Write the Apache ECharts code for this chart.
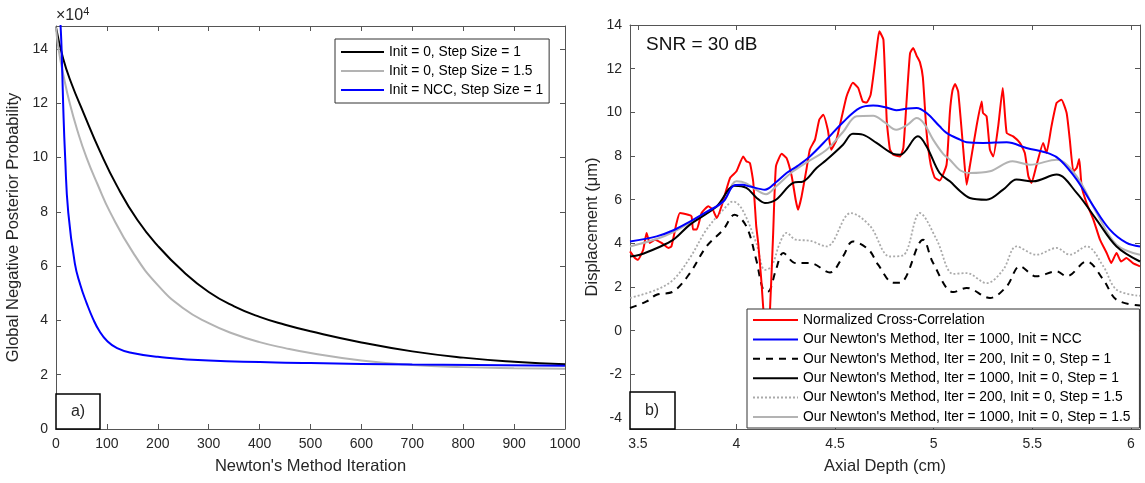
<!DOCTYPE html>
<html>
<head>
<meta charset="utf-8">
<script src="https://cdn.jsdelivr.net/npm/echarts@6/dist/echarts.min.js"></script>
<style>
  html, body { margin: 0; padding: 0; background: #fff; }
  #main { width: 1145px; height: 483px; }
</style>
</head>
<body>
<div id="main"></div>
<script>
// ---- panel a) : objective vs iteration (values x 1e4) ----
const iterBlack = [0, 14, 30, 54, 86, 120, 160, 200, 250, 300, 350, 400, 450, 500, 600, 700, 800, 900, 1000];
const valBlack = [14.8, 13.65, 12.75, 11.65, 10.25, 8.95, 7.7, 6.75, 5.8, 5.05, 4.52, 4.13, 3.84, 3.6, 3.19, 2.86, 2.63, 2.48, 2.39];
const iterGray = [0, 5, 15, 27, 42, 60, 82, 106, 152, 200, 250, 300, 350, 400, 450, 500, 600, 700, 800, 900, 1000];
const valGray = [14.8, 14.0, 13.0, 12.0, 11.0, 10.0, 9.0, 8.0, 6.48, 5.3, 4.45, 3.9, 3.5, 3.2, 2.98, 2.8, 2.52, 2.36, 2.28, 2.24, 2.22];
const iterBlue = [4, 8, 11, 14, 18, 24, 37, 48, 60, 73, 85, 100, 120, 150, 200, 300, 500, 700, 1000];
const valBlue = [17.5, 15.3, 14.0, 12.0, 10.0, 8.0, 6.1, 5.3, 4.65, 4.05, 3.62, 3.25, 2.98, 2.8, 2.66, 2.52, 2.43, 2.38, 2.33];
const iterTicks = [0, 100, 200, 300, 400, 500, 600, 700, 800, 900, 1000];
const gnppTicks = [0, 2, 4, 6, 8, 10, 12, 14];

// ---- panel b) : displacement vs depth ----
const nccX = [3.46, 3.485, 3.50, 3.527, 3.544, 3.56, 3.586, 3.62, 3.654, 3.67, 3.696, 3.713, 3.755, 3.772, 3.78, 3.798, 3.823, 3.857, 3.88, 3.9, 3.924, 3.967, 4.0, 4.034, 4.05, 4.068, 4.085, 4.1, 4.11, 4.127, 4.135, 4.145, 4.16, 4.17, 4.186, 4.2, 4.229, 4.254, 4.28, 4.3, 4.312, 4.33, 4.355, 4.372, 4.398, 4.42, 4.44, 4.463, 4.48, 4.507, 4.558, 4.59, 4.617, 4.64, 4.66, 4.68, 4.7, 4.712, 4.724, 4.745, 4.762, 4.778, 4.795, 4.829, 4.846, 4.863, 4.88, 4.896, 4.913, 4.93, 4.945, 4.964, 4.985, 5.006, 5.03, 5.065, 5.082, 5.095, 5.108, 5.124, 5.15, 5.167, 5.183, 5.217, 5.243, 5.25, 5.268, 5.285, 5.302, 5.327, 5.35, 5.37, 5.403, 5.437, 5.462, 5.48, 5.496, 5.52, 5.555, 5.572, 5.597, 5.623, 5.648, 5.674, 5.69, 5.708, 5.725, 5.738, 5.75, 5.775, 5.81, 5.843, 5.877, 5.9, 5.927, 5.95, 5.977, 6.01, 6.046];
const nccY = [3.63, 3.33, 3.25, 3.71, 4.48, 4.02, 4.17, 4.02, 3.79, 3.86, 4.93, 5.39, 5.31, 5.24, 4.63, 4.63, 5.39, 5.7, 5.54, 5.16, 5.7, 6.99, 7.3, 7.98, 7.76, 7.68, 6.8, 4.8, 4.02, 2.18, 1.11, 0.3, 0.3, 1.0, 4.48, 7.53, 8.1, 7.9, 7.07, 6.0, 5.54, 6.15, 7.4, 8.3, 8.75, 9.67, 9.89, 9.2, 8.29, 8.75, 10.73, 11.35, 11.12, 10.5, 10.45, 10.8, 12.1, 13.0, 13.71, 13.33, 9.6, 8.3, 8.06, 7.98, 8.37, 10.6, 12.7, 12.95, 12.6, 12.3, 11.6, 9.06, 7.6, 7.0, 6.88, 7.6, 10.0, 11.0, 11.3, 10.95, 8.29, 6.69, 7.53, 9.36, 10.5, 9.97, 9.82, 8.29, 7.98, 9.36, 11.12, 9.06, 8.9, 8.6, 8.14, 7.07, 6.77, 7.53, 8.6, 8.14, 9.36, 10.43, 10.58, 9.97, 8.75, 7.3, 7.45, 7.86, 6.61, 5.85, 5.08, 4.17, 3.56, 3.1, 3.56, 3.17, 3.33, 3.1, 2.95];

const nwNccX = [3.46, 3.595, 3.68, 3.764, 3.85, 3.933, 3.99, 4.03, 4.07, 4.144, 4.2, 4.254, 4.31, 4.372, 4.457, 4.54, 4.626, 4.693, 4.76, 4.81, 4.87, 4.913, 4.964, 5.03, 5.065, 5.133, 5.167, 5.25, 5.37, 5.47, 5.59, 5.64, 5.725, 5.81, 5.893, 5.978, 6.046];
const nwNccY = [4.09, 4.32, 4.6, 5.0, 5.45, 5.92, 6.66, 6.68, 6.6, 6.46, 6.8, 7.22, 7.55, 7.98, 8.75, 9.55, 10.2, 10.31, 10.22, 10.1, 10.18, 10.2, 9.97, 9.36, 9.06, 8.75, 8.63, 8.6, 8.63, 8.37, 8.1, 7.83, 6.92, 5.7, 4.63, 4.02, 3.86];

const nw200s1X = [3.46, 3.544, 3.595, 3.68, 3.764, 3.848, 3.933, 3.99, 4.05, 4.1, 4.135, 4.16, 4.20, 4.237, 4.30, 4.372, 4.474, 4.54, 4.59, 4.67, 4.72, 4.795, 4.83, 4.946, 4.997, 5.1, 5.167, 5.285, 5.37, 5.437, 5.52, 5.623, 5.674, 5.775, 5.86, 5.927, 6.046];
const nw200s1Y = [1.04, 1.34, 1.65, 1.8, 2.64, 3.86, 4.63, 5.31, 4.78, 3.25, 1.88, 1.8, 2.79, 3.56, 3.1, 3.1, 2.67, 3.4, 4.09, 3.71, 3.0, 2.2, 2.2, 4.17, 3.1, 1.77, 1.96, 1.5, 2.03, 2.95, 2.49, 2.72, 2.49, 3.17, 2.34, 1.42, 1.15];

const nw1000s1X = [3.46, 3.51, 3.6, 3.68, 3.764, 3.9, 3.99, 4.05, 4.1, 4.144, 4.2, 4.287, 4.34, 4.406, 4.457, 4.54, 4.59, 4.64, 4.71, 4.795, 4.83, 4.92, 4.964, 5.03, 5.082, 5.133, 5.183, 5.268, 5.352, 5.42, 5.505, 5.623, 5.725, 5.826, 5.927, 6.046];
const nw1000s1Y = [3.4, 3.48, 3.8, 4.17, 4.86, 5.7, 6.64, 6.54, 6.1, 5.85, 6.0, 6.77, 6.84, 7.45, 7.83, 8.52, 9.02, 8.98, 8.6, 8.1, 8.06, 8.9, 8.44, 7.22, 6.84, 6.4, 6.08, 6.0, 6.46, 6.92, 6.84, 7.15, 6.31, 5.08, 3.86, 3.17];

const nw200s15X = [3.46, 3.595, 3.68, 3.764, 3.848, 3.933, 3.983, 4.03, 4.1, 4.144, 4.178, 4.22, 4.254, 4.30, 4.372, 4.457, 4.58, 4.677, 4.778, 4.845, 4.93, 5.015, 5.1, 5.167, 5.268, 5.352, 5.42, 5.52, 5.623, 5.69, 5.775, 5.86, 5.927, 6.046];
const nw200s15Y = [1.5, 1.88, 2.34, 3.34, 4.63, 5.54, 5.92, 5.54, 4.02, 2.79, 2.95, 4.02, 4.48, 4.17, 4.12, 3.86, 5.39, 4.8, 3.4, 3.45, 5.39, 4.17, 2.6, 2.64, 2.18, 2.79, 3.86, 3.48, 3.79, 3.48, 3.86, 2.95, 1.88, 1.6];

const nw1000s15X = [3.46, 3.595, 3.68, 3.764, 3.85, 3.933, 4.0, 4.05, 4.1, 4.15, 4.2, 4.287, 4.372, 4.457, 4.54, 4.609, 4.693, 4.75, 4.81, 4.87, 4.913, 4.95, 4.997, 5.048, 5.082, 5.133, 5.183, 5.285, 5.4, 5.488, 5.623, 5.725, 5.826, 5.927, 6.046];
const nw1000s15Y = [3.86, 4.2, 4.52, 4.95, 5.4, 5.9, 6.84, 6.75, 6.45, 6.25, 6.6, 7.3, 7.8, 8.29, 9.1, 9.82, 9.85, 9.55, 9.2, 9.45, 9.74, 9.5, 8.75, 8.1, 7.83, 7.35, 7.22, 7.3, 7.76, 7.6, 7.83, 7.07, 5.39, 3.94, 3.48];

const depthTicks = [3.5, 4, 4.5, 5, 5.5, 6];
const dispTicks = [-4, -2, 0, 2, 4, 6, 8, 10, 12, 14];

const zip = (xs, ys) => xs.map((x, i) => [x, ys[i]]);

const FONT = 'Arial, "Liberation Sans", sans-serif';
const axisCol = '#555';
const txtCol = '#262626';

function tickStyle(vals) {
  return { show: true, inside: true, length: 5, lineStyle: { color: axisCol }, customValues: vals };
}
function mainAxis(vals, extra) {
  return Object.assign({
    type: 'value',
    axisLine: { show: true, onZero: false, lineStyle: { color: axisCol, width: 1 } },
    axisTick: tickStyle(vals),
    axisLabel: { color: txtCol, fontFamily: FONT, fontSize: 14, margin: 8, customValues: vals,
      formatter: (v) => String(v) },
    splitLine: { show: false },
    nameTextStyle: { color: txtCol, fontFamily: FONT, fontSize: 16.5 },
    nameLocation: 'middle'
  }, extra);
}
function mirrorAxis(vals, extra) {
  return Object.assign({
    type: 'value',
    axisLine: { show: true, onZero: false, lineStyle: { color: axisCol, width: 1 } },
    axisTick: tickStyle(vals),
    axisLabel: { show: false },
    splitLine: { show: false }
  }, extra);
}

const chart = echarts.init(document.getElementById('main'));

const legendText = { color: '#000', fontFamily: FONT, fontSize: 13.8 };

const option = {
  animation: false,
  backgroundColor: '#fff',
  grid: [
    { left: 56, top: 26, width: 509, height: 403 },
    { left: 630, top: 25, width: 510, height: 404 }
  ],
  xAxis: [
    mainAxis(iterTicks, { gridIndex: 0, position: 'bottom', min: 0, max: 1000,
      name: "Newton's Method Iteration", nameGap: 29 }),
    mirrorAxis(iterTicks, { gridIndex: 0, position: 'top', min: 0, max: 1000 }),
    mainAxis(depthTicks, { gridIndex: 1, position: 'bottom', min: 3.46, max: 6.046,
      name: 'Axial Depth (cm)', nameGap: 29 }),
    mirrorAxis(depthTicks, { gridIndex: 1, position: 'top', min: 3.46, max: 6.046 })
  ],
  yAxis: [
    mainAxis(gnppTicks, { gridIndex: 0, position: 'left', min: 0, max: 14.85,
      name: 'Global Negative Posterior Probability', nameGap: 34 }),
    mirrorAxis(gnppTicks, { gridIndex: 0, position: 'right', min: 0, max: 14.85 }),
    mainAxis(dispTicks, { gridIndex: 1, position: 'left', min: -4.5, max: 14,
      name: 'Displacement (μm)', nameGap: 29 }),
    mirrorAxis(dispTicks, { gridIndex: 1, position: 'right', min: -4.5, max: 14 })
  ],
  legend: [
    {
      data: ['Init = 0, Step Size = 1', 'Init = 0, Step Size = 1.5', 'Init = NCC, Step Size = 1'],
      orient: 'vertical', left: 335, top: 39,
      itemWidth: 43, itemHeight: 14, itemGap: 5, padding: [6, 6, 6, 5],
      itemStyle: { opacity: 0 },
      backgroundColor: '#fff', borderColor: '#333', borderWidth: 1, borderRadius: 0,
      textStyle: legendText
    },
    {
      data: ['Normalized Cross-Correlation',
        "Our Newton's Method, Iter = 1000, Init = NCC",
        "Our Newton's Method, Iter = 200, Init = 0, Step = 1",
        "Our Newton's Method, Iter = 1000, Init = 0, Step = 1",
        "Our Newton's Method, Iter = 200, Init = 0, Step = 1.5",
        "Our Newton's Method, Iter = 1000, Init = 0, Step = 1.5"],
      orient: 'vertical', left: 747, top: 309,
      itemWidth: 45, itemHeight: 14, itemGap: 5.4, padding: [4, 9, 4, 5],
      itemStyle: { opacity: 0 },
      backgroundColor: '#fff', borderColor: '#333', borderWidth: 1, borderRadius: 0,
      textStyle: legendText
    }
  ],
  graphic: [
    { type: 'text', left: 56, top: 6, z: 10,
      style: { text: '×10{s|4}', fill: txtCol, font: '16px ' + FONT,
        rich: { s: { fontSize: 11, fontFamily: FONT, fill: txtCol, verticalAlign: 'top', padding: [0, 0, 9, 0] } } } },
    { type: 'rect', shape: { x: 56, y: 394, width: 44, height: 35 }, z: 20,
      style: { fill: '#fff', stroke: '#000', lineWidth: 1.5 } },
    { type: 'text', x: 78, y: 412, z: 21,
      style: { text: 'a)', fill: txtCol, font: '16px ' + FONT, align: 'center', verticalAlign: 'middle' } },
    { type: 'rect', shape: { x: 630, y: 392, width: 45, height: 37 }, z: 20,
      style: { fill: '#fff', stroke: '#000', lineWidth: 1.5 } },
    { type: 'text', x: 652, y: 411, z: 21,
      style: { text: 'b)', fill: txtCol, font: '16px ' + FONT, align: 'center', verticalAlign: 'middle' } },
    { type: 'text', x: 646, y: 45, z: 21,
      style: { text: 'SNR = 30 dB', fill: '#111', font: '19px ' + FONT, verticalAlign: 'middle' } }
  ],
  series: [
    { name: 'Init = 0, Step Size = 1', type: 'line', xAxisIndex: 0, yAxisIndex: 0,
      data: zip(iterBlack, valBlack), symbol: 'none', smooth: 0.5,
      lineStyle: { color: '#000', width: 2 }, itemStyle: { color: '#000' } },
    { name: 'Init = 0, Step Size = 1.5', type: 'line', xAxisIndex: 0, yAxisIndex: 0,
      data: zip(iterGray, valGray), symbol: 'none', smooth: 0.5,
      lineStyle: { color: '#b3b3b3', width: 2 }, itemStyle: { color: '#b3b3b3' } },
    { name: 'Init = NCC, Step Size = 1', type: 'line', xAxisIndex: 0, yAxisIndex: 0,
      data: zip(iterBlue, valBlue), symbol: 'none', smooth: 0.5,
      lineStyle: { color: '#0000ff', width: 2 }, itemStyle: { color: '#0000ff' } },

    { name: "Our Newton's Method, Iter = 200, Init = 0, Step = 1.5", type: 'line', xAxisIndex: 2, yAxisIndex: 2,
      data: zip(nw200s15X, nw200s15Y), symbol: 'none', smooth: 0.35,
      lineStyle: { color: '#aaaaaa', width: 1.8, type: [2, 2] }, itemStyle: { color: '#aaaaaa' } },
    { name: "Our Newton's Method, Iter = 200, Init = 0, Step = 1", type: 'line', xAxisIndex: 2, yAxisIndex: 2,
      data: zip(nw200s1X, nw200s1Y), symbol: 'none', smooth: 0.35,
      lineStyle: { color: '#000', width: 2, type: [7, 6] }, itemStyle: { color: '#000' } },
    { name: 'Normalized Cross-Correlation', type: 'line', xAxisIndex: 2, yAxisIndex: 2,
      data: zip(nccX, nccY), symbol: 'none', smooth: 0.15,
      lineStyle: { color: '#ff0000', width: 2 }, itemStyle: { color: '#ff0000' } },
    { name: "Our Newton's Method, Iter = 1000, Init = 0, Step = 1.5", type: 'line', xAxisIndex: 2, yAxisIndex: 2,
      data: zip(nw1000s15X, nw1000s15Y), symbol: 'none', smooth: 0.35,
      lineStyle: { color: '#b3b3b3', width: 2 }, itemStyle: { color: '#b3b3b3' } },
    { name: "Our Newton's Method, Iter = 1000, Init = 0, Step = 1", type: 'line', xAxisIndex: 2, yAxisIndex: 2,
      data: zip(nw1000s1X, nw1000s1Y), symbol: 'none', smooth: 0.35,
      lineStyle: { color: '#000', width: 2 }, itemStyle: { color: '#000' } },
    { name: "Our Newton's Method, Iter = 1000, Init = NCC", type: 'line', xAxisIndex: 2, yAxisIndex: 2,
      data: zip(nwNccX, nwNccY), symbol: 'none', smooth: 0.35,
      lineStyle: { color: '#0000ff', width: 2 }, itemStyle: { color: '#0000ff' } }
  ]
};

chart.setOption(option);
window.onresize = function () {
  chart.resize();
};
</script>
</body>
</html>
